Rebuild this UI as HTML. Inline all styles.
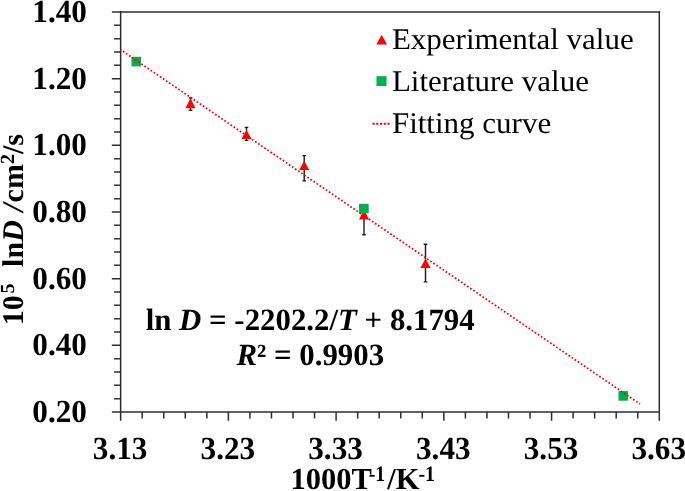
<!DOCTYPE html>
<html><head><meta charset="utf-8"><title>chart</title>
<style>html,body{margin:0;padding:0;background:#fff;overflow:hidden}svg{display:block;will-change:transform}text{text-rendering:geometricPrecision;font-family:"Liberation Serif","Times New Roman",serif;fill:#000}</style></head><body>
<svg width="685" height="491" viewBox="0 0 685 491">
<rect width="685" height="491" fill="#fff"/>
<g stroke="#2e2e2e" stroke-width="1.5" fill="none" stroke-linecap="butt">
<path d="M120.65 11.3V420.8"/>
<path d="M111.85000000000001 412.0H660.0"/>
<path d="M111.85000000000001 12.0H660.0"/>
<path d="M659.3 11.3V420.8"/>
<path d="M114.05 25.33H120.65M114.05 38.67H120.65M114.05 52.00H120.65M114.05 65.33H120.65M111.85 78.67H120.65M114.05 92.00H120.65M114.05 105.33H120.65M114.05 118.67H120.65M114.05 132.00H120.65M111.85 145.33H120.65M114.05 158.67H120.65M114.05 172.00H120.65M114.05 185.33H120.65M114.05 198.67H120.65M111.85 212.00H120.65M114.05 225.33H120.65M114.05 238.67H120.65M114.05 252.00H120.65M114.05 265.33H120.65M111.85 278.67H120.65M114.05 292.00H120.65M114.05 305.33H120.65M114.05 318.67H120.65M114.05 332.00H120.65M111.85 345.33H120.65M114.05 358.67H120.65M114.05 372.00H120.65M114.05 385.33H120.65M114.05 398.67H120.65"/>
<path d="M142.20 412.0V418.60M163.74 412.0V418.60M185.29 412.0V418.60M206.83 412.0V418.60M228.38 412.0V420.80M249.93 412.0V418.60M271.47 412.0V418.60M293.02 412.0V418.60M314.56 412.0V418.60M336.11 412.0V420.80M357.66 412.0V418.60M379.20 412.0V418.60M400.75 412.0V418.60M422.29 412.0V418.60M443.84 412.0V420.80M465.39 412.0V418.60M486.93 412.0V418.60M508.48 412.0V418.60M530.02 412.0V418.60M551.57 412.0V420.80M573.12 412.0V418.60M594.66 412.0V418.60M616.21 412.0V418.60M637.75 412.0V418.60"/>
</g>
<g stroke="#1a1a1a" stroke-width="1.4" fill="none">
<path d="M190.5 97.9V110.4M188.7 110.4h3.6M188.7 97.9h3.6"/>
<path d="M246.5 127.4V140.4M244.7 140.4h3.6M244.7 127.4h3.6"/>
<path d="M304.2 155.6V180.9M302.4 180.9h3.6M302.4 155.6h3.6"/>
<path d="M364.0 214.5V234.8M362.2 234.8h3.6"/>
<path d="M425.5 244.3V281.9M423.7 281.9h3.6M423.7 244.3h3.6"/>
</g>
<g fill="#fe0000">
<path d="M190.5 98.3L195.5 108.2H185.5Z"/>
<path d="M246.5 129.9L251.5 139.1H241.5Z"/>
<path d="M304.2 160.7L309.2 169.9H299.2Z"/>
<path d="M364.0 209.5L369.0 219.5H359.0Z"/>
<path d="M425.5 258.4L430.5 267.9H420.5Z"/>
</g>
<g fill="#00b050">
<rect x="131.50" y="56.80" width="9.6" height="9.6"/>
<rect x="359.05" y="203.80" width="9.6" height="9.6"/>
<rect x="618.50" y="391.10" width="9.6" height="9.6"/>
</g>
<path d="M120.70 49.76L640.00 404.03" stroke="#ff0000" stroke-width="1.75" stroke-dasharray="1.7 2.02" stroke-dashoffset="0.95" fill="none"/>
<path d="M381.7 34.7L387 44.5H376.4Z" fill="#fe0000"/>
<rect x="376.5" y="76.2" width="10" height="9.8" fill="#00b050"/>
<path d="M372.5 123.75H389.8" stroke="#ff0000" stroke-width="2" stroke-dasharray="2.1 1.65" fill="none"/>
<g font-size="30.0px">
<text id="lg1" transform="translate(391.9 48.8) scale(1.033 1)">Experimental value</text>
<text id="lg2" transform="translate(391.9 91.2) scale(1.033 1)">Literature value</text>
<text id="lg3" transform="translate(391.9 133.2) scale(1.033 1)">Fitting curve</text>
</g>
<g font-size="31.2px" font-weight="bold" text-anchor="end">
<text id="yl0" transform="translate(86.9 22.00) scale(1 1.03)">1.40</text>
<text id="yl1" transform="translate(86.9 88.67) scale(1 1.03)">1.20</text>
<text id="yl2" transform="translate(86.9 155.33) scale(1 1.03)">1.00</text>
<text id="yl3" transform="translate(86.9 222.00) scale(1 1.03)">0.80</text>
<text id="yl4" transform="translate(86.9 288.67) scale(1 1.03)">0.60</text>
<text id="yl5" transform="translate(86.9 355.33) scale(1 1.03)">0.40</text>
<text id="yl6" transform="translate(86.9 422.00) scale(1 1.03)">0.20</text>
</g>
<g font-size="31.2px" font-weight="bold" text-anchor="middle">
<text id="xl0" transform="translate(120.10 458.7) scale(1 1.03)">3.13</text>
<text id="xl1" transform="translate(227.83 458.7) scale(1 1.03)">3.23</text>
<text id="xl2" transform="translate(335.56 458.7) scale(1 1.03)">3.33</text>
<text id="xl3" transform="translate(443.29 458.7) scale(1 1.03)">3.43</text>
<text id="xl4" transform="translate(551.02 458.7) scale(1 1.03)">3.53</text>
<text id="xl5" transform="translate(658.75 458.7) scale(1 1.03)">3.63</text>
</g>
<g id="xt" font-weight="bold">
<text x="290.4" y="489.3" font-size="30.5px">1000T</text>
<text transform="translate(368.7 480.6) scale(0.9 1)" font-size="22px">-1</text>
<text x="387.3" y="489.3" font-size="30.5px">/K</text>
<text transform="translate(418.5 480.6) scale(0.9 1)" font-size="22px">-1</text>
</g><g id="yt" transform="translate(22.9 322.9) rotate(-90)" font-size="30px" font-weight="bold">
<text x="-2.4" y="0">10<tspan font-size="20px" dx="1.8" dy="-9">5</tspan></text>
<text x="56" y="0">ln<tspan font-style="italic">D</tspan></text>
<text x="111.1" y="0" font-style="italic">/</text>
<text x="188.8" y="0" text-anchor="end">cm<tspan font-size="20px" dy="-9">2</tspan><tspan dy="9">/s</tspan></text>
</g>
<text id="eq1" x="310.2" y="330.1" font-size="30.85px" font-weight="bold" text-anchor="middle">ln <tspan font-style="italic">D</tspan> = -2202.2/<tspan font-style="italic">T</tspan> + 8.1794</text>
<text id="eq2" x="310.3" y="365.4" font-size="30.85px" font-weight="bold" text-anchor="middle"><tspan font-style="italic">R</tspan>² = 0.9903</text>
</svg>
</body></html>
